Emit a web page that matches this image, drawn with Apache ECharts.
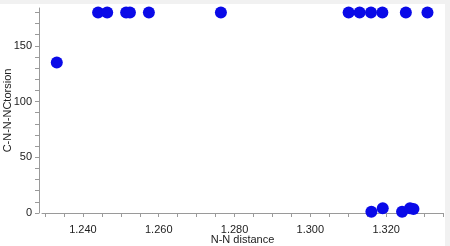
<!DOCTYPE html>
<html>
<head>
<meta charset="utf-8">
<script src="https://cdn.jsdelivr.net/npm/echarts@6/dist/echarts.min.js"></script>
<style>
html,body{margin:0;padding:0;background:#f1f1f1;}
#wrap{position:absolute;left:0;top:4px;width:445px;height:242px;background:#fff;}
#chart{position:absolute;left:0;top:0;width:450px;height:246px;}
</style>
</head>
<body>
<div id="wrap"></div>
<div id="chart"></div>
<script>
// N-N distance values
const nnDistance = [1.2331, 1.2440, 1.2464, 1.2514, 1.2524, 1.2574, 1.2764, 1.3101, 1.3130, 1.3160, 1.3190, 1.3252, 1.3309, 1.3161, 1.3191, 1.3242, 1.3263, 1.3272];
// C-N-N-N torsion values
const torsion = [135, 180, 180, 180, 180, 180, 180, 180, 180, 180, 180, 180, 180, 1.2, 4.2, 1.2, 4.2, 3.6];
const xTickLabels = [1.24, 1.26, 1.28, 1.30, 1.32];
const xMinorTicks = [1.230, 1.235, 1.240, 1.245, 1.250, 1.255, 1.260, 1.265, 1.270, 1.275, 1.280, 1.285, 1.290, 1.295, 1.300, 1.305, 1.310, 1.315, 1.320, 1.325, 1.330, 1.335];
const yTickLabels = [0, 50, 100, 150];
const yMinorTicks = [0, 10, 20, 30, 40, 50, 60, 70, 80, 90, 100, 110, 120, 130, 140, 150, 160, 170, 180];

const points = nnDistance.map((x, i) => [x, torsion[i]]);

const chart = echarts.init(document.getElementById('chart'), null, {renderer: 'canvas'});
const axisColor = '#9a9a9a';
const textColor = '#222';
const font = 'Liberation Sans, Arial, sans-serif';
chart.setOption({
  backgroundColor: 'transparent',
  animation: false,
  grid: {left: 42, right: 7, top: 8, bottom: 33, containLabel: false, outerBoundsMode: 'none'},
  xAxis: {
    type: 'value',
    min: 1.2292, max: 1.335,
    offset: 4,
    name: 'N-N distance',
    nameLocation: 'middle',
    nameGap: 17,
    nameMoveOverlap: false,
    nameTextStyle: {color: textColor, fontSize: 11, fontFamily: font},
    axisLine: {show: true, lineStyle: {color: axisColor, width: 1}},
    axisTick: {show: true, length: 4, customValues: xMinorTicks, lineStyle: {color: axisColor}},
    axisLabel: {customValues: xTickLabels, margin: 7, color: textColor, fontSize: 11,
      fontFamily: font, formatter: v => v.toFixed(3)},
    splitLine: {show: false}
  },
  yAxis: {
    type: 'value',
    min: 0, max: 184,
    offset: 3,
    name: 'C-N-N-NCtorsion',
    nameLocation: 'middle',
    nameGap: 26,
    nameMoveOverlap: false,
    nameTextStyle: {color: textColor, fontSize: 11, fontFamily: font},
    axisLine: {show: true, lineStyle: {color: axisColor, width: 1}},
    axisTick: {show: true, length: 4, customValues: yMinorTicks, lineStyle: {color: axisColor}},
    axisLabel: {customValues: yTickLabels, margin: 7, color: textColor, fontSize: 11, fontFamily: font},
    splitLine: {show: false}
  },
  series: [{
    type: 'scatter',
    data: points,
    symbol: 'circle',
    symbolSize: 12,
    clip: false,
    itemStyle: {color: '#0a0ae8', opacity: 1}
  }]
});
</script>
</body>
</html>
